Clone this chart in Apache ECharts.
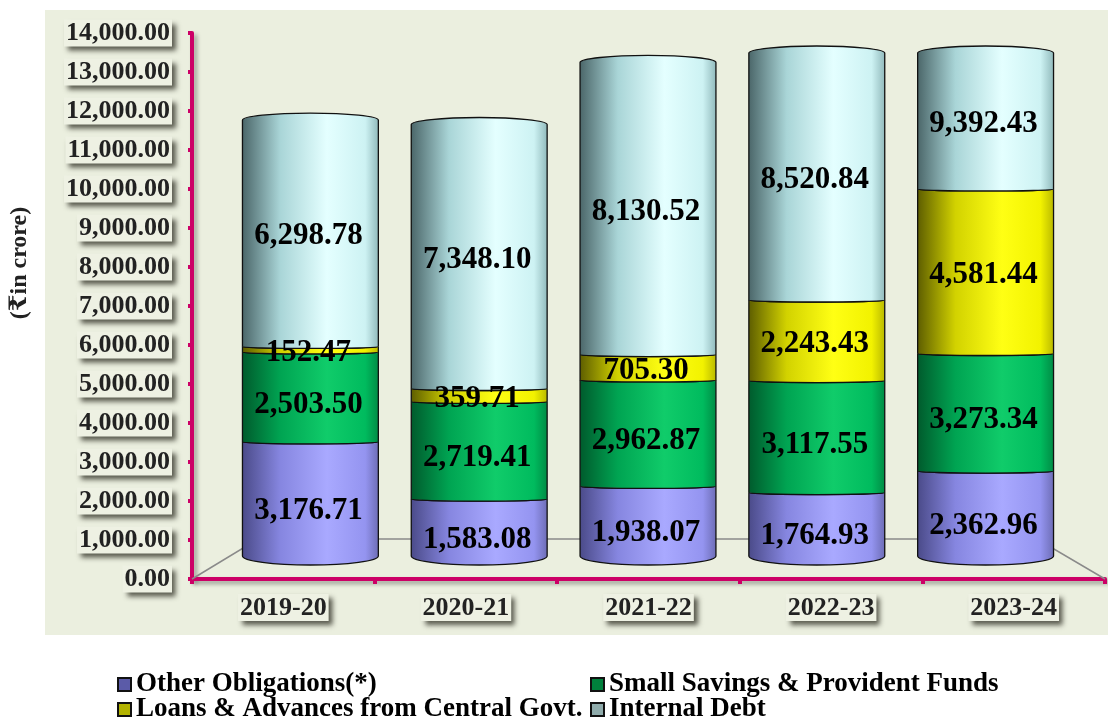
<!DOCTYPE html>
<html>
<head>
<meta charset="utf-8">
<script src="https://cdn.jsdelivr.net/npm/echarts@6/dist/echarts.min.js"></script>
<style>
  html, body { margin: 0; padding: 0; background: #fff; }
  #chart { width: 1108px; height: 721px; }
</style>
</head>
<body>
<div id="chart"></div>
<script>
var years = ['2019-20', '2020-21', '2021-22', '2022-23', '2023-24'];
var otherObligations = [3176.71, 1583.08, 1938.07, 1764.93, 2362.96];
var smallSavings = [2503.50, 2719.41, 2962.87, 3117.55, 3273.34];
var loansAdvances = [152.47, 359.71, 705.30, 2243.43, 4581.44];
var internalDebt = [6298.78, 7348.10, 8130.52, 8520.84, 9392.43];
var yMax = 14000;
var yStep = 1000;

var SERIF = '"Liberation Serif", "Times New Roman", "DejaVu Serif", serif';

function fmt(v) {
    return Number(v).toLocaleString('en-US', { minimumFractionDigits: 2, maximumFractionDigits: 2 });
}

// order bottom -> top; labelDy nudges the value text down a little like the original
var layers = [
    { name: 'Other Obligations(*)', data: otherObligations, icon: '#5b5ba8', labelDy: 12,
      stops: ['#4a4a88', '#8686e0', '#a9a9ff', '#9494f0', '#6c6cb4'] },
    { name: 'Small Savings & Provident Funds', data: smallSavings, icon: '#00803c', labelDy: 8,
      stops: ['#005a2c', '#00a452', '#10cc6a', '#00bb5e', '#008a44'] },
    { name: 'Loans & Advances from Central Govt.', data: loansAdvances, icon: '#b3b300', labelDy: 4,
      stops: ['#5c5c00', '#d2d200', '#ffff14', '#f2f200', '#b8b800'] },
    { name: 'Internal Debt', data: internalDebt, icon: '#8fabab', labelDy: 3,
      stops: ['#4a6568', '#a9d5d7', '#e4ffff', '#cdf2f3', '#8fb8ba'] }
];
// legend slots: [left, top] for each layer
var legendSlots = [[117, 671], [590, 671], [117, 696], [590, 696]];

function arcTo(xs, xe, y, ry) {
    var k = 0.5523, dx = (xe - xs) / 2, cx = xs + dx;
    return ' C' + xs + ',' + (y + k * ry) + ' ' + (cx - k * dx) + ',' + (y + ry) + ' ' + cx + ',' + (y + ry) +
           ' C' + (cx + k * dx) + ',' + (y + ry) + ' ' + xe + ',' + (y + k * ry) + ' ' + xe + ',' + y;
}

function makeRender(layerIdx) {
    var layer = layers[layerIdx];
    var stops = layer.stops;
    var isFirst = layerIdx === 0;
    var isLast = layerIdx === layers.length - 1;
    return function (params, api) {
        var cat = api.value(0), lo = api.value(1), hi = api.value(2), val = api.value(3);
        if (lo >= yMax) return;
        var pLo = api.coord([cat, lo]);
        var pHi = api.coord([cat, Math.min(hi, yMax)]);
        var w = api.size([1, 0])[0] * 0.805;
        var x0 = pLo[0] - w / 2, x1 = pLo[0] + w / 2;
        var yB = pLo[1], yT = pHi[1];
        var ryB = isFirst ? 9 : 2;
        var ryT = isLast ? -7 : 2;
        var d = 'M' + x0 + ',' + yT + ' L' + x0 + ',' + yB + arcTo(x0, x1, yB, ryB) +
                ' L' + x1 + ',' + yT + arcTo(x1, x0, yT, ryT) + ' Z';
        return {
            type: 'group',
            children: [{
                type: 'path',
                shape: { pathData: d },
                style: {
                    fill: {
                        type: 'linear', x: 0, y: 0, x2: 1, y2: 0,
                        colorStops: [
                            { offset: 0, color: stops[0] },
                            { offset: 0.28, color: stops[1] },
                            { offset: 0.62, color: stops[2] },
                            { offset: 0.9, color: stops[3] },
                            { offset: 1, color: stops[4] }
                        ]
                    },
                    stroke: '#111',
                    lineWidth: 1.3
                }
            }, {
                type: 'text',
                z2: 100,
                style: {
                    x: pLo[0] - 2, y: (yB + yT) / 2 + layer.labelDy,
                    text: fmt(val),
                    align: 'center', verticalAlign: 'middle',
                    font: 'bold 31px ' + SERIF,
                    fill: '#000'
                }
            }]
        };
    };
}

var series = layers.map(function (layer, li) {
    var data = years.map(function (y, i) {
        var base = 0;
        for (var k = 0; k < li; k++) base += layers[k].data[i];
        return [i, base, base + layer.data[i], layer.data[i]];
    });
    return {
        name: layer.name,
        type: 'custom',
        xAxisIndex: 1,
        yAxisIndex: 1,
        z: 3,
        itemStyle: { color: layer.icon },
        encode: { x: 0, y: [1, 2] },
        renderItem: makeRender(li),
        data: data
    };
});

var legends = layers.map(function (layer, li) {
    return {
        left: legendSlots[li][0], top: legendSlots[li][1],
        padding: 0,
        itemWidth: 13, itemHeight: 13,
        icon: 'rect',
        itemStyle: { borderColor: '#111', borderWidth: 2 },
        textStyle: { fontFamily: SERIF, fontWeight: 'bold', fontSize: 27, color: '#000' },
        data: [layer.name]
    };
});

var magenta = '#cc0066';
var boxLabel = {
    fontFamily: SERIF,
    fontWeight: 'bold',
    fontSize: 26,
    color: '#222',
    backgroundColor: '#eef1e3',
    padding: [1, 2, 0, 2],
    shadowColor: 'rgba(40,40,30,0.75)',
    shadowBlur: 5,
    shadowOffsetX: 4,
    shadowOffsetY: 4
};

var option = {
    backgroundColor: '#ffffff',
    animation: false,
    graphic: [{
        type: 'rect', z: -10, silent: true,
        shape: { x: 45, y: 10, width: 1063, height: 625 },
        style: { fill: '#ebefdf' }
    }, {
        type: 'polyline', z: 1, silent: true,
        shape: { points: [[192, 579], [258, 539], [1037, 539], [1105, 579]] },
        style: { stroke: '#8a8a8a', lineWidth: 1.5, fill: null }
    }],
    grid: [
        { left: 190, right: 3, top: 33, bottom: 142 },
        { left: 226, right: 38, top: 53, bottom: 165 }
    ],
    legend: legends,
    xAxis: [{
        type: 'category',
        gridIndex: 0,
        data: years,
        axisLine: { lineStyle: { color: magenta, width: 4, shadowColor: 'rgba(0,0,0,0.35)', shadowBlur: 4, shadowOffsetX: 3, shadowOffsetY: 3 } },
        axisTick: { show: true, length: 5, lineStyle: { color: magenta, width: 4 } },
        axisLabel: Object.assign({}, boxLabel, { margin: 15 }),
        splitLine: { show: false }
    }, {
        type: 'category',
        gridIndex: 1,
        data: years,
        show: false
    }],
    yAxis: [{
        type: 'value',
        gridIndex: 0,
        min: 0, max: yMax, interval: yStep,
        name: '(\u20B9in crore)',
        nameLocation: 'middle',
        nameRotate: 90,
        nameGap: 160,
        nameTextStyle: { fontFamily: SERIF, fontWeight: 'bold', fontSize: 24, color: '#222', padding: [0, 0, 0, 86] },
        axisLine: { show: true, lineStyle: { color: magenta, width: 4, shadowColor: 'rgba(0,0,0,0.35)', shadowBlur: 4, shadowOffsetX: 3, shadowOffsetY: 3 } },
        axisTick: { show: true, length: 4, lineStyle: { color: magenta, width: 4 } },
        axisLabel: Object.assign({}, boxLabel, { margin: 20, formatter: function (v) { return fmt(v); } }),
        splitLine: { show: false }
    }, {
        type: 'value',
        gridIndex: 1,
        min: 0, max: yMax, interval: yStep,
        show: false,
        splitLine: { show: false }
    }],
    series: series
};

var chart = echarts.init(document.getElementById('chart'), null, { renderer: 'canvas' });
chart.setOption(option);
</script>
</body>
</html>
